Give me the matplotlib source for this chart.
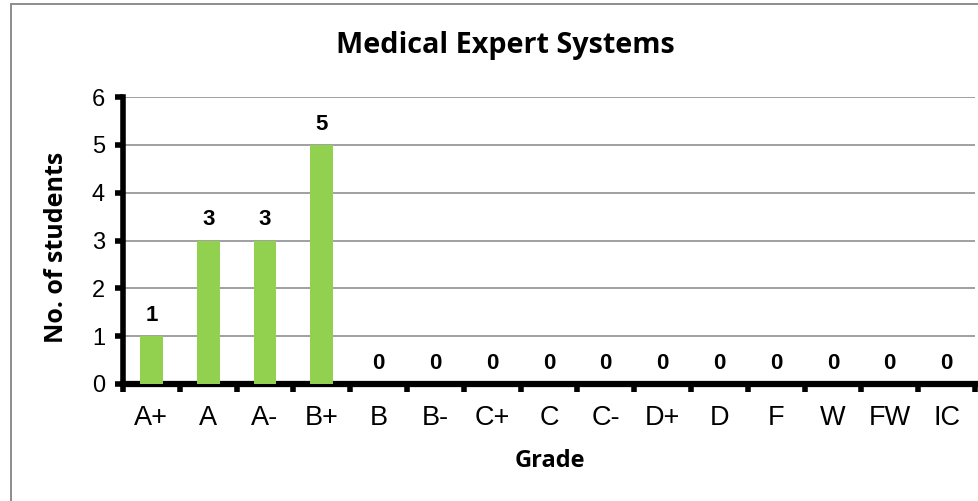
import matplotlib
matplotlib.use("Agg")
import matplotlib.pyplot as plt
from matplotlib.patches import Rectangle

grades = ["A+", "A", "A-", "B+", "B", "B-", "C+", "C", "C-", "D+", "D", "F", "W", "FW", "IC"]
counts = [1, 3, 3, 5, 0, 0, 0, 0, 0, 0, 0, 0, 0, 0, 0]
yticks = [0, 1, 2, 3, 4, 5, 6]

W, H = 979, 501
fig = plt.figure(figsize=(W / 100, H / 100), dpi=100)
# outer chart frame (right and bottom edges fall outside the picture)
fig.patches.append(Rectangle((11 / W, -20 / H), (1000 - 11) / W, (501 - 4 + 20) / H,
                             transform=fig.transFigure, fill=False,
                             edgecolor="#8c8c8c", linewidth=1.4))

left, right, top, bottom = 123, 975, 97, 384
ax = fig.add_axes([left / W, 1 - bottom / H, (right - left) / W, (bottom - top) / H])

x = list(range(len(grades)))
ax.bar(x, counts, width=0.4, color="#92D050", zorder=3)
ax.set_xlim(-0.5, len(grades) - 0.5)
ax.set_ylim(0, 6)
ax.set_yticks(yticks)
ax.set_yticklabels([str(t) for t in yticks], fontsize=17, family="Liberation Sans")
ax.set_xticks(x)
ax.set_xticklabels(grades, fontsize=19.5, family="Liberation Sans")
ax.set_xticks([i - 0.5 for i in range(len(grades) + 1)], minor=True)
ax.tick_params(axis="x", which="major", length=0, pad=15)
ax.tick_params(axis="x", which="minor", length=6, width=4, direction="out", color="black")
ax.tick_params(axis="y", which="major", length=6, width=4, direction="out", pad=7)
ax.yaxis.grid(True, color="#a0a0a0", linewidth=1.4, zorder=0)
ax.set_axisbelow(True)
for s in ["top", "right"]:
    ax.spines[s].set_visible(False)
ax.spines["left"].set_linewidth(4)
ax.spines["bottom"].set_linewidth(4.5)

for xi, v in zip(x, counts):
    ax.annotate(str(v), (xi, v), xytext=(0, 11), textcoords="offset points",
                ha="center", va="baseline", fontsize=16, fontweight="bold",
                family="Liberation Sans")

fig.text(505 / W, 1 - 46 / H, "Medical Expert Systems", ha="center", va="center",
         fontsize=20.7, fontweight="bold", family="Open Sans")
fig.text(57 / W, 1 - 247 / H, "No. of students", ha="center", va="center", rotation=90,
         fontsize=18, fontweight="bold", family="Open Sans")
fig.text(550 / W, 1 - 461 / H, "Grade", ha="center", va="center",
         fontsize=17, fontweight="bold", family="Open Sans")

fig.savefig("out.png", dpi=100)
